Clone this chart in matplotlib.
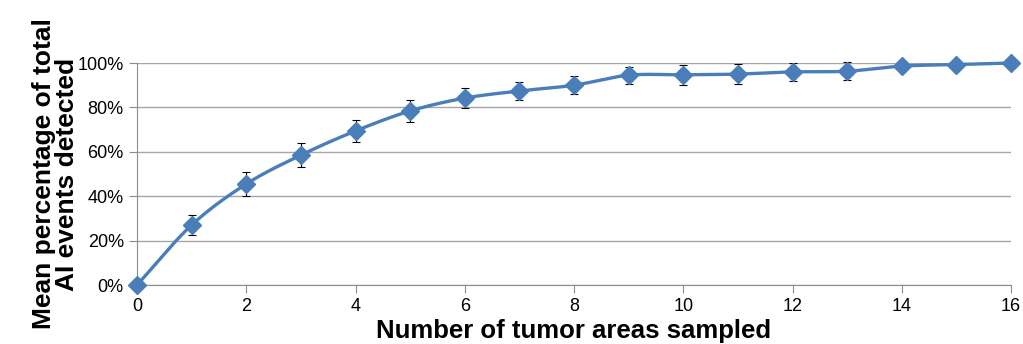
import numpy as np
import matplotlib.pyplot as plt
from matplotlib.ticker import PercentFormatter

# data
areas = [0, 1, 2, 3, 4, 5, 6, 7, 8, 9, 10, 11, 12, 13, 14, 15, 16]
mean_pct = [0, 27, 45.5, 58.5, 69.4, 78.4, 84.2, 87.4, 90, 94.5, 94.7, 95, 96, 96.3, 98.6, 99.3, 100]
err_pct = [0, 4.6, 5.5, 5.4, 4.8, 4.9, 4.6, 4.0, 4.0, 3.8, 4.4, 4.6, 4.0, 4.0, 2.0, 0.5, 0]

blue = '#4a7ebb'


def smooth(x, y, n=20):
    # Catmull-Rom curve like Excel's "smoothed line"
    x = np.asarray(x, float)
    y = np.asarray(y, float)
    px = np.concatenate([[2 * x[0] - x[1]], x, [2 * x[-1] - x[-2]]])
    py = np.concatenate([[2 * y[0] - y[1]], y, [2 * y[-1] - y[-2]]])
    xs, ys = [], []
    t = np.linspace(0, 1, n, endpoint=False)
    for i in range(1, len(px) - 2):
        for p, out in ((px, xs), (py, ys)):
            p0, p1, p2, p3 = p[i - 1], p[i], p[i + 1], p[i + 2]
            out.extend(0.5 * (2 * p1 + (-p0 + p2) * t
                              + (2 * p0 - 5 * p1 + 4 * p2 - p3) * t ** 2
                              + (-p0 + 3 * p1 - 3 * p2 + p3) * t ** 3))
    xs.append(x[-1])
    ys.append(y[-1])
    return xs, ys


plt.rcParams['font.family'] = ['Liberation Sans', 'DejaVu Sans']

fig = plt.figure(figsize=(10.23, 3.44), dpi=100)
ax = fig.add_axes([137 / 1023, 59 / 344, 874 / 1023, 222 / 344])

sx, sy = smooth(areas, mean_pct)
ax.plot(sx, sy, color=blue, lw=2.4, zorder=3, clip_on=False)
ax.errorbar(areas, mean_pct, yerr=err_pct, fmt='none', ecolor='black',
            elinewidth=0.8, capsize=3, capthick=0.8, zorder=4, clip_on=False)
ax.plot(areas, mean_pct, 'D', color=blue, ms=9.5, zorder=5, clip_on=False)

ax.set_xlim(0, 16)
ax.set_ylim(0, 100)
ax.set_xticks(range(0, 17, 2))
ax.set_yticks(range(0, 101, 20))
ax.yaxis.set_major_formatter(PercentFormatter(decimals=0))
ax.grid(axis='y', color='#a6a6a6', lw=1)
ax.set_axisbelow(True)
for s in ['top', 'right']:
    ax.spines[s].set_visible(False)
for s in ['left', 'bottom']:
    ax.spines[s].set_color('#8c8c8c')
ax.tick_params(colors='#8c8c8c', labelcolor='black', labelsize=13, length=6, direction='out')

ax.set_xlabel('Number of tumor areas sampled', fontsize=18.5, fontweight='bold', labelpad=3)
ax.set_ylabel('Mean percentage of total\nAI events detected', fontsize=19,
              fontweight='bold', labelpad=-1, linespacing=0.95)

fig.savefig('out.png', dpi=100)
